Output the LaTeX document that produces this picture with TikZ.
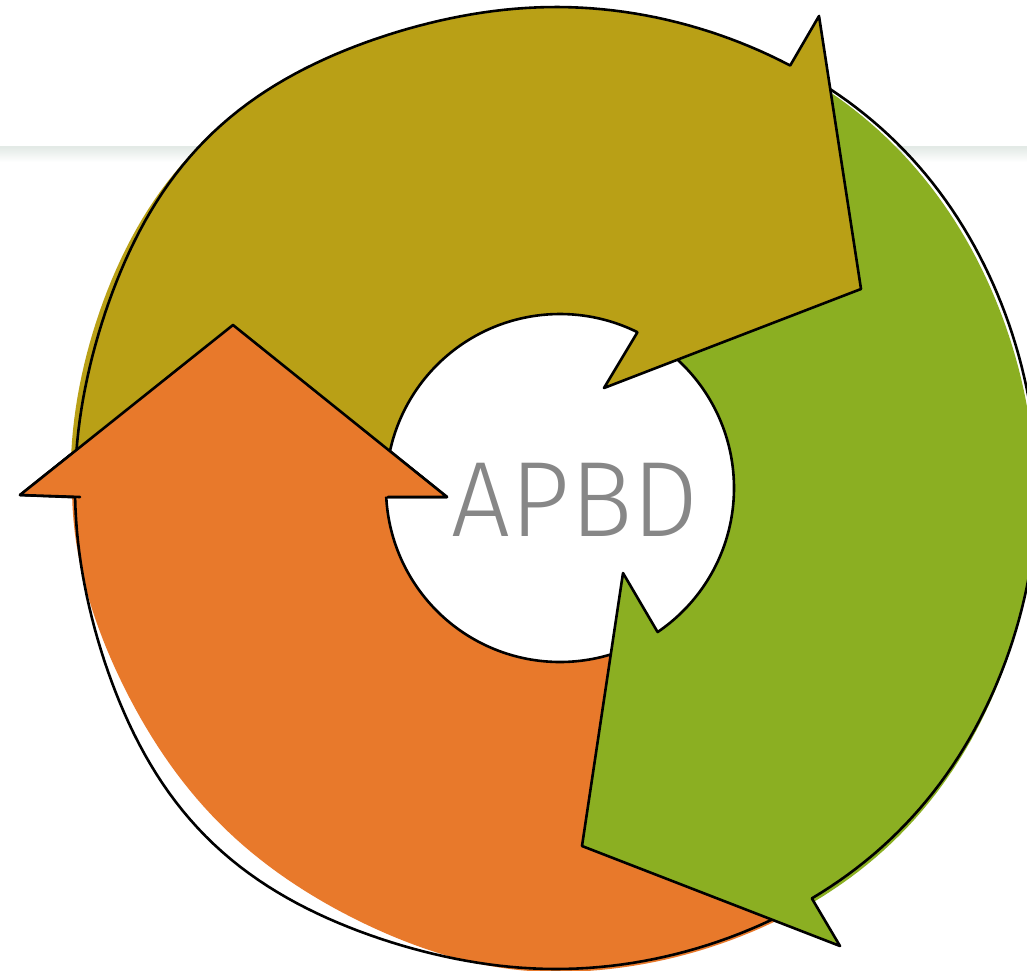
\documentclass[tikz,border=0pt]{standalone}
\usepackage{fontspec}
\newfontfamily\apbdfont{Fira Sans Light}
\definecolor{olivec}{HTML}{B9A016}
\definecolor{greenc}{HTML}{8BAF22}
\definecolor{orangec}{HTML}{E8792B}
\definecolor{textc}{HTML}{878787}
\definecolor{linec}{HTML}{E3EAE6}
\begin{document}
\begin{tikzpicture}[x=1pt,y=-1pt,
  declare function={
    Ro(\u)=481+ifthenelse(cos(\u)<0,13,4)*sin(2*\u)*sin(2*\u)*sin(2*\u)*sin(2*\u);
    Oo(\u)=ifthenelse(\u<90,3,3-22*sin(2*\u)*sin(2*\u));
    Ol(\u)=ifthenelse(\u<225,6*cos(3*(\u-195)),0);
    Og(\u)=4*sin(2*(\u-15));},
  outl/.style={draw=black, line width=2.6pt, line join=round, line cap=round},
  pl/.style={samples=90, variable=\t}]
\useasboundingbox (0,0) rectangle (1027,970);
\clip (0,0) rectangle (1027,970);
\fill[white] (0,0) rectangle (1027,970);
% faint background rule
\shade[top color=linec, bottom color=white] (0,147) rectangle (1027,162);
\draw[linec, line width=1.4pt] (0,147) -- (1027,147);

% ---------- orange arrow (bottom-left, pointing up)
\fill[orangec]
  plot[pl, domain=61:178.9] ({556+(Ro(\t)+Oo(\t))*cos(\t)},{488+(Ro(\t)+Oo(\t))*sin(\t)})
  -- (20,495) -- (233,325) -- (447,497) -- (388,497)
  -- plot[pl, domain=177:68] ({560+174*cos(\t)},{488+174*sin(\t)})
  -- cycle;
\draw[outl]
  plot[pl, domain=61:178.9] ({556+Ro(\t)*cos(\t)},{488+Ro(\t)*sin(\t)})
  -- (20,495) -- (233,325) -- (447,497) -- (388,497)
  -- plot[pl, domain=177:68] ({560+174*cos(\t)},{488+174*sin(\t)})
  -- cycle;

% ---------- green arrow (right, pointing down)
\fill[greenc]
  plot[pl, domain=-55.6:58.06] ({556+(Ro(\t)+Og(\t))*cos(\t)},{488+(Ro(\t)+Og(\t))*sin(\t)})
  -- (840,946) -- (582,846) -- (623,573) -- (657,631)
  -- plot[pl, domain=55.85:-50] ({560+174*cos(\t)},{488+174*sin(\t)})
  -- cycle;
\draw[outl]
  plot[pl, domain=-55.6:58.06] ({556+Ro(\t)*cos(\t)},{488+Ro(\t)*sin(\t)})
  -- (840,946) -- (582,846) -- (623,573) -- (657,631)
  -- plot[pl, domain=55.85:-50] ({560+174*cos(\t)},{488+174*sin(\t)})
  -- cycle;

% ---------- olive arrow (top, pointing right)
\fill[olivec]
  plot[pl, domain=183:299] ({556+(Ro(\t)+Ol(\t))*cos(\t)},{488+(Ro(\t)+Ol(\t))*sin(\t)})
  -- (819,16) -- (861,289) -- (604,388) -- (637,333)
  -- plot[pl, domain=296.4:182] ({560+174*cos(\t)},{488+174*sin(\t)})
  -- cycle;
\draw[outl]
  plot[pl, domain=183:299] ({556+Ro(\t)*cos(\t)},{488+Ro(\t)*sin(\t)})
  -- (819,16) -- (861,289) -- (604,388) -- (637,333)
  -- plot[pl, domain=296.4:182] ({560+174*cos(\t)},{488+174*sin(\t)})
  -- cycle;

% ---------- orange arrow head laid over the olive tail
\fill[orangec] (20,495) -- (233,325) -- (447,497) -- cycle;
\draw[outl] (80,497) -- (20,495) -- (233,325) -- (447,497) -- (388,497);

\node[text=textc, inner sep=0pt, xscale=0.975] (apbd) at (575,500) {\apbdfont\fontsize{107}{110}\selectfont APBD};
\end{tikzpicture}
\end{document}
